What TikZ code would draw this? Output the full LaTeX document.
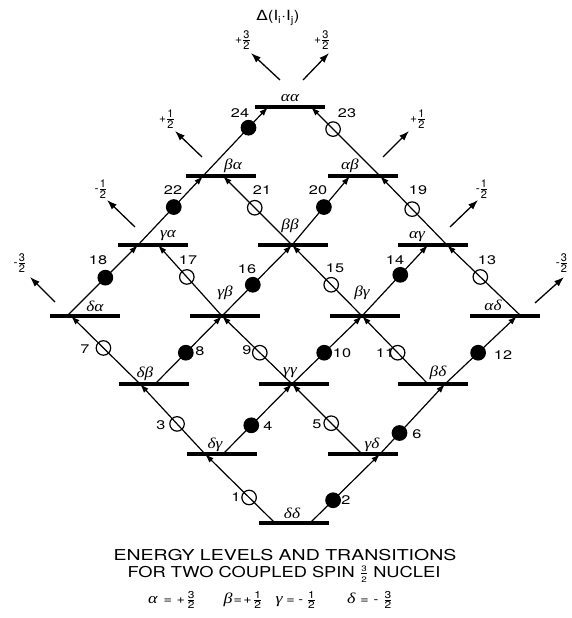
\documentclass[tikz,border=0pt]{standalone}
\usepackage{amsmath}
\usepackage{fontspec}
\setsansfont{TeX Gyre Heros}
\newfontfamily\dejavu{DejaVu Sans}
\newfontfamily\grk{Liberation Serif}
\usetikzlibrary{arrows.meta}
\newcommand\hw[2][1.3]{\scalebox{#1}[1]{#2}}
\newcommand\frc[3][11]{\ensuremath{\genfrac{}{}{0.9pt}{}{\mbox{\sffamily\fontsize{#1}{#1}\selectfont #2}}{\mbox{\sffamily\fontsize{#1}{#1}\selectfont #3}}}}
\newcommand\gl[1]{\hw[1.15]{{\grk\itshape #1}}}
\newcommand\gk[1]{{\grk\itshape\fontsize{15}{15}\selectfont #1}}
\begin{document}
\begin{tikzpicture}[x=1pt,y=-1pt,
  bar/.style={fill=black,minimum width=70pt,minimum height=3.8pt,inner sep=0pt,draw=none},
  lvl/.style={font=\fontsize{15}{15}\selectfont,inner sep=0pt},
  num/.style={font=\sffamily\fontsize{12.5}{12.5}\selectfont,inner sep=0pt},
  captxt/.style={font=\sffamily\fontsize{15}{15}\selectfont,inner sep=0pt},
  leg/.style={font=\sffamily\fontsize{12}{12}\selectfont,inner sep=0pt},
  trans/.style={line width=1.2pt,-{Latex[length=9pt,width=6pt]}},
  full/.style={circle,fill=black,draw=black,line width=1.2pt,minimum size=14.5pt,inner sep=0pt},
  empty/.style={circle,draw=black,line width=1.2pt,minimum size=14.5pt,inner sep=0pt},
  side/.style={line width=1.3pt,-{Latex[length=10pt,width=7pt]}}]
\useasboundingbox (0,0) rectangle (571,618);

% energy level bars
\node[bar] (aa) at (290,107) {};
\node[bar] (ba) at (221,176) {};
\node[bar] (ab) at (363,176) {};
\node[bar] (ga) at (153,245) {};
\node[bar] (bb) at (293,245) {};
\node[bar] (ag) at (433,245) {};
\node[bar] (da) at (85,316) {};
\node[bar] (gb) at (225,316) {};
\node[bar] (bg) at (365,316) {};
\node[bar] (ad) at (505,316) {};
\node[bar] (db) at (154,384) {};
\node[bar] (gg) at (294,384) {};
\node[bar] (bd) at (433,384) {};
\node[bar] (dg) at (222,454) {};
\node[bar] (gd) at (363,454) {};
\node[bar] (dd) at (294,523) {};

% level labels
\node[lvl] (aa-l) at (290,98) {\gl{αα}};
\node[lvl] (ba-l) at (233,166) {\gl{βα}};
\node[lvl] (ab-l) at (350,166) {\gl{αβ}};
\node[lvl] (ga-l) at (168,236) {\gl{γα}};
\node[lvl] (bb-l) at (290,226) {\gl{ββ}};
\node[lvl] (ag-l) at (417,237) {\gl{αγ}};
\node[lvl] (da-l) at (95,306) {\gl{δα}};
\node[lvl] (gb-l) at (225,293) {\gl{γβ}};
\node[lvl] (bg-l) at (362,293) {\gl{βγ}};
\node[lvl] (ad-l) at (493,305) {\gl{αδ}};
\node[lvl] (db-l) at (145,374) {\gl{δβ}};
\node[lvl] (gg-l) at (290,373) {\gl{γγ}};
\node[lvl] (bd-l) at (438,373) {\gl{βδ}};
\node[lvl] (dg-l) at (215,445) {\gl{δγ}};
\node[lvl] (gd-l) at (372,445) {\gl{γδ}};
\node[lvl] (dd-l) at (292,513) {\gl{δδ}};

% attachment points of transition lines on the bars
\coordinate (L1-6) at (275,523); \coordinate (L1-5) at (205,454);
\coordinate (L1-4) at (140,384); \coordinate (L1-3) at (71,316);
\coordinate (L2-5) at (362,454); \coordinate (L2-4) at (292,384);
\coordinate (L2-3) at (222,316); \coordinate (L2-2) at (158,245);
\coordinate (L3-4) at (428,384); \coordinate (L3-3) at (362,316);
\coordinate (L3-2) at (292,245); \coordinate (L3-1) at (223,176);
\coordinate (L4-3) at (521,316); \coordinate (L4-2) at (447,245);
\coordinate (L4-1) at (380,176); \coordinate (L4-0) at (311,107);
\coordinate (R1-6) at (310,523); \coordinate (R1-5) at (380,454);
\coordinate (R1-4) at (445,384); \coordinate (R1-3) at (517,316);
\coordinate (R2-5) at (223,454); \coordinate (R2-4) at (292,384);
\coordinate (R2-3) at (362,316); \coordinate (R2-2) at (428,245);
\coordinate (R3-4) at (155,384); \coordinate (R3-3) at (222,316);
\coordinate (R3-2) at (292,245); \coordinate (R3-1) at (350,176);
\coordinate (R4-3) at (67,316); \coordinate (R4-2) at (138,245);
\coordinate (R4-1) at (203,176); \coordinate (R4-0) at (268,107);

% transitions
\draw[trans] (L1-6) -- node[pos=.37,empty] (c1) {} (L1-5);
\draw[trans] (R1-6) -- node[pos=.33,full] (c2) {} (R1-5);
\draw[trans] (L1-5) -- node[pos=.43,empty] (c3) {} (L1-4);
\draw[trans] (R2-5) -- node[pos=.41,full] (c4) {} (R2-4);
\draw[trans] (L2-5) -- node[pos=.44,empty] (c5) {} (L2-4);
\draw[trans] (R1-5) -- node[pos=.30,full] (c6) {} (R1-4);
\draw[trans] (L1-4) -- node[pos=.53,empty] (c7) {} (L1-3);
\draw[trans] (R3-4) -- node[pos=.46,full] (c8) {} (R3-3);
\draw[trans] (L2-4) -- node[pos=.46,empty] (c9) {} (L2-3);
\draw[trans] (R2-4) -- node[pos=.46,full] (c10) {} (R2-3);
\draw[trans] (L3-4) -- node[pos=.46,empty] (c11) {} (L3-3);
\draw[trans] (R1-4) -- node[pos=.46,full] (c12) {} (R1-3);
\draw[trans] (L4-3) -- node[pos=.55,empty] (c13) {} (L4-2);
\draw[trans] (R2-3) -- node[pos=.58,full] (c14) {} (R2-2);
\draw[trans] (L3-3) -- node[pos=.44,empty] (c15) {} (L3-2);
\draw[trans] (R3-3) -- node[pos=.44,full] (c16) {} (R3-2);
\draw[trans] (L2-3) -- node[pos=.55,empty] (c17) {} (L2-2);
\draw[trans] (R4-3) -- node[pos=.54,full] (c18) {} (R4-2);
\draw[trans] (L4-2) -- node[pos=.52,empty] (c19) {} (L4-1);
\draw[trans] (R3-2) -- node[pos=.55,full] (c20) {} (R3-1);
\draw[trans] (L3-2) -- node[pos=.54,empty] (c21) {} (L3-1);
\draw[trans] (R4-2) -- node[pos=.55,full] (c22) {} (R4-1);
\draw[trans] (L4-1) -- node[pos=.68,empty] (c23) {} (L4-0);
\draw[trans] (R4-1) -- node[pos=.70,full] (c24) {} (R4-0);

% transition numbers
\node[num] (n1) at (236,497) {\hw{1}};
\node[num] (n2) at (346,500) {\hw{2}};
\node[num] (n3) at (161,425) {\hw{3}};
\node[num] (n4) at (268,426) {\hw{4}};
\node[num] (n5) at (317,424) {\hw{5}};
\node[num] (n6) at (417,434) {\hw{6}};
\node[num] (n7) at (85,349) {\hw{7}};
\node[num] (n8) at (200,351) {\hw{8}};
\node[num] (n9) at (247,350) {\hw{9}};
\node[num] (n10) at (342,353) {\hw{10}};
\node[num] (n11) at (385,353) {\hw{11}};
\node[num] (n12) at (503,355) {\hw{12}};
\node[num] (n13) at (487,260) {\hw{13}};
\node[num] (n14) at (395,260) {\hw{14}};
\node[num] (n15) at (335,268) {\hw{15}};
\node[num] (n16) at (247,269) {\hw{16}};
\node[num] (n17) at (188,260) {\hw{17}};
\node[num] (n18) at (98,260) {\hw{18}};
\node[num] (n19) at (418,190) {\hw{19}};
\node[num] (n20) at (318,190) {\hw{20}};
\node[num] (n21) at (262,190) {\hw{21}};
\node[num] (n22) at (173,190) {\hw{22}};
\node[num] (n23) at (347,113) {\hw{23}};
\node[num] (n24) at (240,113) {\hw{24}};

% side arrows (Delta(Ii.Ij))
\node[num,font=\sffamily\fontsize{14}{14}\selectfont] (delta) at (278,18) {\hw[1.2]{{\dejavu Δ}(I\textsubscript{i}·I\textsubscript{j})}};
\coordinate (t1) at (280,80); \coordinate (h1) at (251,53);
\coordinate (t2) at (303,80); \coordinate (h2) at (329,53);
\coordinate (t3) at (202,157); \coordinate (h3) at (175,131);
\coordinate (t4) at (383,157); \coordinate (h4) at (409,131);
\coordinate (t5) at (135,227); \coordinate (h5) at (107,200);
\coordinate (t6) at (450,227); \coordinate (h6) at (478,200);
\coordinate (t7) at (55,302); \coordinate (h7) at (30,277);
\coordinate (t8) at (535,303); \coordinate (h8) at (564,277);
\draw[side] (t1) -- (h1);
\draw[side] (t2) -- (h2);
\draw[side] (t3) -- (h3);
\draw[side] (t4) -- (h4);
\draw[side] (t5) -- (h5);
\draw[side] (t6) -- (h6);
\draw[side] (t7) -- (h7);
\draw[side] (t8) -- (h8);
\node[leg] (s1) at (243,40) {+\frc{3}{2}};
\node[leg] (s2) at (322,40) {+\frc{3}{2}};
\node[leg] (s3) at (167,119) {+\frc{1}{2}};
\node[leg] (s4) at (418,119) {+\frc{1}{2}};
\node[leg] (s5) at (101,189) {-\frc{1}{2}};
\node[leg] (s6) at (482,189) {-\frc{1}{2}};
\node[leg] (s7) at (20,263) {-\frc{3}{2}};
\node[leg] (s8) at (562,263) {-\frc{3}{2}};

% caption
\node[captxt] (cap1) at (285,555) {\hw[1.3]{ENERGY LEVELS AND TRANSITIONS}};
\node[captxt] (cap2) at (284,574) {\hw[1.22]{FOR TWO COUPLED SPIN \frc[8]{3}{2} NUCLEI}};
\node[leg] (g1) at (172,600) {\hw[1.2]{\gk{α}\hspace{5pt}=\hspace{4pt}+\hspace{1pt}\frc[10]{3}{2}}};
\node[leg] (g2) at (243,600) {\hw[1.2]{\gk{β}\hspace{1pt}=\hspace{1pt}+\hspace{1pt}\frc[10]{1}{2}}};
\node[leg] (g3) at (296,600) {\hw[1.2]{\gk{γ}\hspace{3pt}=\hspace{3pt}-\hspace{3pt}\frc[10]{1}{2}}};
\node[leg] (g4) at (370,600) {\hw[1.2]{\gk{δ}\hspace{4pt}=\hspace{4pt}-\hspace{4pt}\frc[10]{3}{2}}};
\end{tikzpicture}
\end{document}
